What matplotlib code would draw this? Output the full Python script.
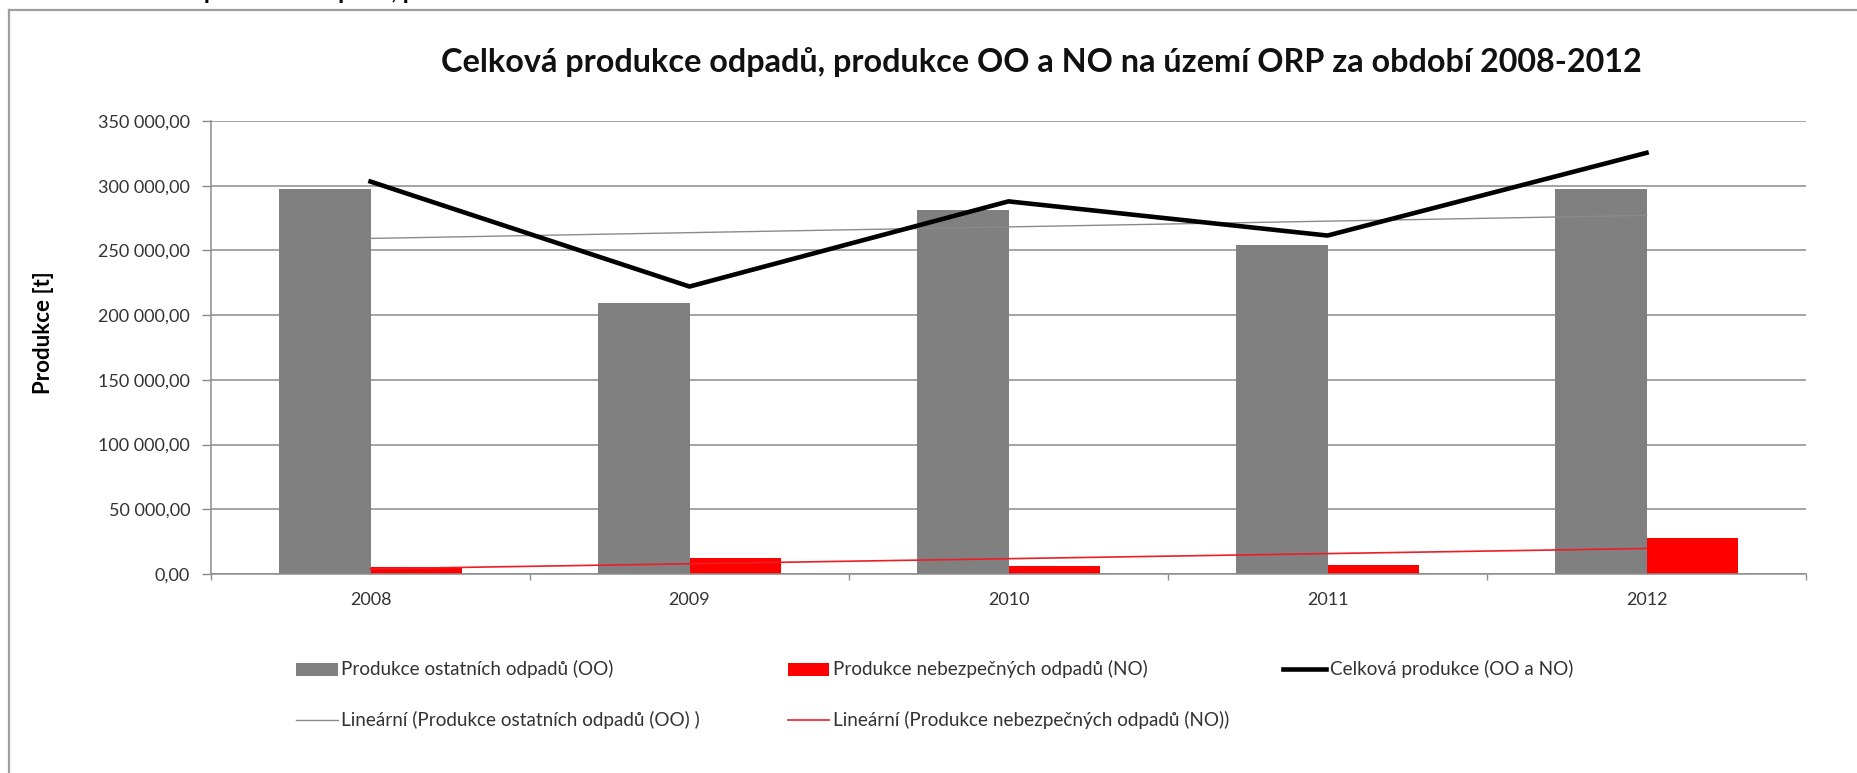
import matplotlib
matplotlib.use('Agg')
import matplotlib.pyplot as plt
import numpy as np
from matplotlib.lines import Line2D
from matplotlib.patches import Rectangle

# ---- data ----
years = ['2008', '2009', '2010', '2011', '2012']
oo = [297800, 209700, 281400, 254200, 297800]     # Produkce ostatních odpadů (OO)
no = [5400, 12400, 6500, 7300, 27600]             # Produkce nebezpečných odpadů (NO)
total = [a + b for a, b in zip(oo, no)]           # Celková produkce (OO a NO)
y_ticks = [0, 50000, 100000, 150000, 200000, 250000, 300000, 350000]

title = 'Celková produkce odpadů, produkce OO a NO na území ORP za období 2008-2012'
ylabel = 'Produkce [t]'
leg_labels = ['Produkce ostatních odpadů (OO)',
              'Produkce nebezpečných odpadů (NO)',
              'Celková produkce (OO a NO)',
              'Lineární (Produkce ostatních odpadů (OO) )',
              'Lineární (Produkce nebezpečných odpadů (NO))']

W, H = 1857, 773
plt.rcParams['font.family'] = ['Lato', 'DejaVu Sans']
fig = plt.figure(figsize=(W / 100, H / 100), dpi=100)
fig.patch.set_facecolor('white')
renderer = fig.canvas.get_renderer()


def px(x, y):
    return x / W, 1 - y / H


def size_for(s, target, weight='normal', base=12.0):
    t = fig.text(0, 0, s, fontsize=base, fontweight=weight)
    w = t.get_window_extent(renderer).width
    t.remove()
    return base * target / w


def width_of(s, size, weight='normal'):
    t = fig.text(0, 0, s, fontsize=size, fontweight=weight)
    w = t.get_window_extent(renderer).width
    t.remove()
    return w


GRAY = '#808080'
RED = '#ff0000'
GRID = '#8c8c8c'
TXT = '#333333'

# ---- axes ----
ax = fig.add_axes([211 / W, 1 - 574 / H, (1806 - 211) / W, (574 - 121) / H])
x = np.arange(len(years))
bw = 1 / 3.5
ax.bar(x - bw / 2, oo, bw, color=GRAY, zorder=2)
ax.bar(x + bw / 2, no, bw, color=RED, zorder=2)

p_oo = np.polyfit(x, oo, 1)
p_no = np.polyfit(x, no, 1)
ax.plot(x, np.polyval(p_oo, x), color='#8a8a8a', lw=1.0, zorder=3)
ax.plot(x, np.polyval(p_no, x), color='#ee1c24', lw=1.2, zorder=3)
ax.plot(x, total, color='black', lw=3.3, zorder=4)

ax.set_xlim(-0.5, len(years) - 0.5)
ax.set_ylim(0, 350000)
ax.set_yticks(y_ticks)
ax.set_yticklabels([f'{v:,.2f}'.replace(',', ' ').replace('.', ',') for v in y_ticks])
ax.set_xticks(x)
ax.set_xticklabels(years)
ax.set_xticks(np.arange(-0.5, len(years), 1), minor=True)
ax.set_axisbelow(True)
ax.yaxis.grid(True, color=GRID, lw=1.1)
for s in ['top', 'right']:
    ax.spines[s].set_visible(False)
for s in ['left', 'bottom']:
    ax.spines[s].set_color(GRID)
    ax.spines[s].set_linewidth(1.1)

tick_size = size_for('350 000,00', 92)
ax.tick_params(axis='y', length=6.5, width=1, color=GRID, pad=8.6,
               labelsize=tick_size, labelcolor=TXT)
ax.tick_params(axis='x', which='major', length=0, pad=13,
               labelsize=tick_size, labelcolor=TXT)
ax.tick_params(axis='x', which='minor', length=4.3, width=1, color=GRID)

# ---- title, y label ----
tsize = size_for(title, 1196, 'bold')
fig.text(*px(1041, 62), title, fontsize=tsize, fontweight='bold',
         ha='center', va='center', color='#111111')

ylsize = size_for(ylabel, 123, 'bold')
fig.text(*px(43, 333), ylabel, fontsize=ylsize, fontweight='bold',
         rotation=90, ha='center', va='center', color='black')

# cut-off caption line above the chart (only descenders visible)
csize = tsize * 0.74
pre = width_of('Celková ', csize, 'bold')
fig.text(*px(204 - pre, -1), title, fontsize=csize, fontweight='bold',
         ha='left', va='baseline', color='black')

# ---- frame ----
fig.add_artist(Line2D([9 / W, 1], [1 - 10 / H, 1 - 10 / H], color='#a0a0a0',
                      lw=1.6, transform=fig.transFigure))
fig.add_artist(Line2D([9 / W, 9 / W], [0, 1 - 10 / H], color='#a0a0a0',
                      lw=1.6, transform=fig.transFigure))

# ---- legend (manual, Excel layout) ----
lsize = size_for(leg_labels[1], 313)
rows = [669, 720]
entries = [
    ('patch', GRAY, None, 296, 338, rows[0], 341),
    ('patch', RED, None, 788, 829, rows[0], 833),
    ('line', 'black', 3.3, 1283, 1326, rows[0], 1330),
    ('line', '#8a8a8a', 1.0, 296, 338, rows[1], 341),
    ('line', '#ee1c24', 1.2, 788, 829, rows[1], 833),
]
for (kind, col, lw, x0, x1, yy, tx), lab in zip(entries, leg_labels):
    if kind == 'patch':
        fig.add_artist(Rectangle(px(x0, yy + 6.5), (x1 - x0) / W, 13 / H,
                                 facecolor=col, edgecolor='none',
                                 transform=fig.transFigure))
    else:
        fig.add_artist(Line2D([x0 / W, x1 / W], [1 - yy / H, 1 - yy / H],
                              color=col, lw=lw, transform=fig.transFigure))
    fig.text(*px(tx, yy), lab, fontsize=lsize, ha='left', va='center', color=TXT)

fig.savefig('out.png', dpi=100, facecolor='white')
